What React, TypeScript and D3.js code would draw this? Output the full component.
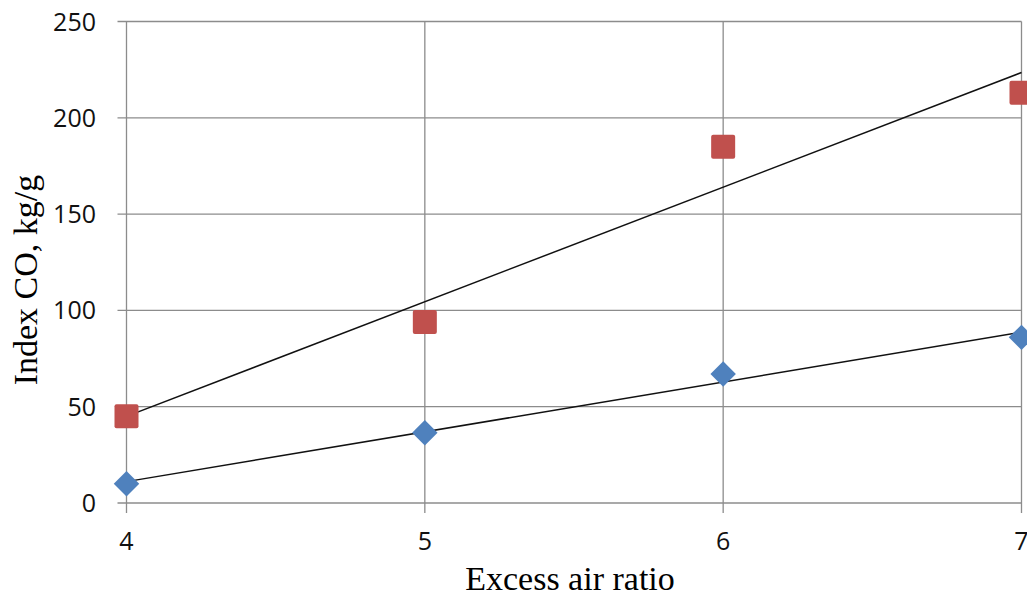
import { useEffect, useRef } from 'react'
import * as d3 from 'd3'

// excess air ratio (x) and CO index readings for the two series
const airRatio = [4, 5, 6, 7]
const seriesBlue = [10, 36.5, 67, 86]
const seriesRed = [45, 94, 185, 213]
const xTicks = [4, 5, 6, 7]
const yTicks = [0, 50, 100, 150, 200, 250]

const W = 1027
const H = 596

// least-squares line through the points, like the spreadsheet trendline
function linearFit(xs: number[], ys: number[]) {
  const mx = d3.mean(xs) || 0
  const my = d3.mean(ys) || 0
  const num = d3.sum(xs, (x, i) => (x - mx) * (ys[i] - my))
  const den = d3.sum(xs, (x) => (x - mx) * (x - mx))
  const slope = num / den
  return (x: number) => my + slope * (x - mx)
}

export default function App() {
  const svgRef = useRef<SVGSVGElement>(null)

  useEffect(() => {
    if (!svgRef.current) return
    const svg = d3.select(svgRef.current)
    svg.selectAll('*').remove()

    const x = d3.scaleLinear().domain([4, 7]).range([126.5, 1021.5])
    const y = d3.scaleLinear().domain([0, 250]).range([503, 21.5])

    const gridColor = '#8c8c8c'
    const tickFont = '"Open Sans", sans-serif'
    const titleFont = '"Liberation Serif", "Times New Roman", serif'

    // horizontal grid lines (with short tick stubs on the left)
    svg
      .append('g')
      .selectAll('line')
      .data(yTicks)
      .enter()
      .append('line')
      .attr('x1', x(4) - 9)
      .attr('x2', x(7))
      .attr('y1', (d) => y(d))
      .attr('y2', (d) => y(d))
      .attr('stroke', gridColor)
      .attr('stroke-width', 1.3)

    // vertical grid lines (extending below the axis as ticks)
    svg
      .append('g')
      .selectAll('line')
      .data(xTicks)
      .enter()
      .append('line')
      .attr('x1', (d) => x(d))
      .attr('x2', (d) => x(d))
      .attr('y1', y(250))
      .attr('y2', y(0) + 10)
      .attr('stroke', gridColor)
      .attr('stroke-width', 1.3)

    // y tick labels
    svg
      .append('g')
      .selectAll('text')
      .data(yTicks)
      .enter()
      .append('text')
      .attr('x', 96)
      .attr('y', (d) => y(d) + 9)
      .attr('text-anchor', 'end')
      .attr('font-family', tickFont)
      .attr('font-size', '25px')
      .attr('fill', '#111')
      .text((d) => d)

    // x tick labels
    svg
      .append('g')
      .selectAll('text')
      .data(xTicks)
      .enter()
      .append('text')
      .attr('x', (d) => x(d))
      .attr('y', 550)
      .attr('text-anchor', 'middle')
      .attr('font-family', tickFont)
      .attr('font-size', '25px')
      .attr('fill', '#111')
      .text((d) => d)

    // axis titles
    svg
      .append('text')
      .attr('x', 570)
      .attr('y', 590)
      .attr('text-anchor', 'middle')
      .attr('font-family', titleFont)
      .attr('font-size', '34px')
      .attr('fill', '#000')
      .text('Excess air ratio')

    svg
      .append('text')
      .attr('transform', 'translate(37,280) rotate(-90)')
      .attr('text-anchor', 'middle')
      .attr('font-family', titleFont)
      .attr('font-size', '34px')
      .attr('fill', '#000')
      .text('Index CO, kg/g')

    // trend lines
    const line = d3
      .line<number>()
      .x((d) => x(d))
    ;[seriesRed, seriesBlue].forEach((vals) => {
      const fit = linearFit(airRatio, vals)
      svg
        .append('path')
        .datum([airRatio[0], airRatio[airRatio.length - 1]])
        .attr('d', line.y((d) => y(fit(d))))
        .attr('fill', 'none')
        .attr('stroke', '#111')
        .attr('stroke-width', 1.5)
    })

    // red squares
    const sq = 24
    svg
      .append('g')
      .selectAll('rect')
      .data(seriesRed)
      .enter()
      .append('rect')
      .attr('x', (_, i) => x(airRatio[i]) - sq / 2)
      .attr('y', (d) => y(d) - sq / 2)
      .attr('width', sq)
      .attr('height', sq)
      .attr('rx', 2)
      .attr('fill', '#C0504D')

    // blue diamonds
    const diamond = d3.symbol().type(d3.symbolSquare).size(18 * 18)
    svg
      .append('g')
      .selectAll('path')
      .data(seriesBlue)
      .enter()
      .append('path')
      .attr('d', diamond)
      .attr('transform', (d, i) => `translate(${x(airRatio[i])},${y(d)}) rotate(45)`)
      .attr('fill', '#4F81BD')
  }, [])

  return (
    <svg
      ref={svgRef}
      width={W}
      height={H}
      style={{ position: 'absolute', left: 0, top: 0, background: '#fff' }}
    />
  )
}
